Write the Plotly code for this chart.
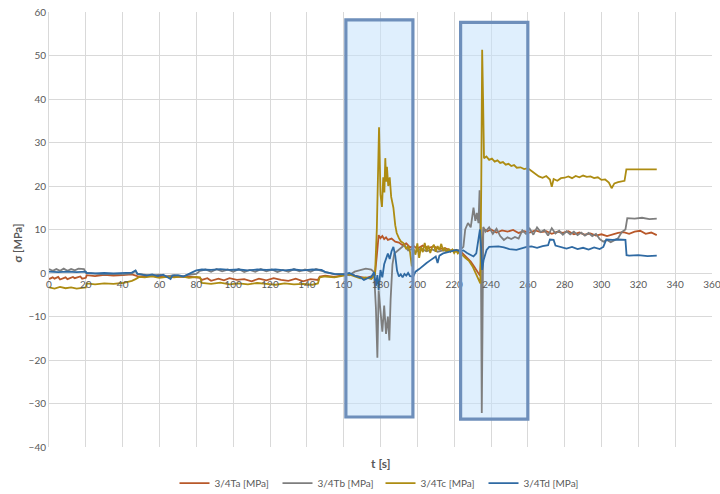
import plotly.graph_objects as go

# --- measured stresses, 3/4T gauges -------------------------------------
t_a = [0, 2, 3, 5, 6, 9, 10, 13, 14, 17, 18, 20, 20.5, 25, 30, 35, 40, 45, 48, 50,
       55, 60, 65, 70, 75, 80, 82, 83, 86, 88, 92, 95, 98, 102, 106, 110, 114, 118,
       122, 126, 130, 134, 138, 142, 146, 147, 150, 155, 160, 163, 166, 169, 172,
       175, 177, 178, 179, 180, 181, 182, 183, 184, 186, 188, 190, 192, 194, 196,
       198, 200, 203, 206, 209, 212, 215, 218, 221, 223, 225, 227, 229, 231, 233,
       234, 235, 236, 238, 240, 243, 246, 249, 252, 255, 258, 261, 264, 267, 270,
       273, 276, 279, 282, 285, 288, 291, 294, 297, 300, 303, 306, 309, 312, 315,
       318, 321, 324, 327, 330]
s_a = [-1.4, -1.0, -1.3, -0.9, -1.5, -1.0, -1.4, -0.9, -1.2, -0.8, -1.3, -1.1, -0.5,
       -0.7, -0.4, -0.6, -0.5, -0.3, -0.7, -0.8, -0.6, -0.9, -0.7, -0.9, -0.8, -1.0,
       -1.1, -1.6, -1.2, -1.8, -1.3, -1.7, -1.2, -1.6, -1.4, -1.9, -1.3, -1.7, -1.2,
       -1.6, -1.8, -1.3, -1.9, -1.4, -1.6, -0.8, -0.6, -0.9, -0.4, -0.2, -0.6, -0.9,
       -1.2, -0.8, -0.3, 4.0, 8.7, 8.0, 8.5, 7.8, 8.2, 7.6, 7.9, 7.2, 7.0, 6.4, 6.8,
       5.9, 6.2, 5.6, 6.3, 5.8, 6.1, 5.5, 5.7, 5.2, 5.0, 5.2, 4.4, 3.6, 2.6, 1.4, 0.2,
       -0.6, 5.0, 10.2, 9.6, 10.0, 9.3, 9.8, 9.5, 9.9, 9.2, 9.6, 9.3, 9.8, 9.4, 9.6,
       9.0, 9.5, 9.2, 9.6, 8.9, 9.3, 8.8, 9.1, 8.6, 8.9, 8.5, 8.9, 9.2, 9.4, 9.0, 9.5,
       9.7, 9.0, 9.3, 8.7]

t_b = [0, 2, 4, 6, 8, 10, 12, 14, 16, 19, 20, 25, 30, 35, 40, 45, 47, 48, 52, 56,
       60, 64, 68, 72, 76, 80, 82, 85, 88, 91, 94, 97, 100, 103, 106, 109, 112, 115,
       118, 121, 124, 127, 130, 133, 136, 139, 142, 145, 148, 151, 155, 160, 163,
       166, 169, 172, 175, 176.5, 177.5, 178.3, 179, 180, 181, 182, 183, 184, 184.8,
       185.5, 186.5, 187.5, 189, 191, 193, 195, 197, 199, 202, 205, 208, 211, 214,
       217, 220, 223, 225, 226, 227.5, 229, 230.5, 231.5, 232.3, 233.2, 233.8, 234.5,
       235, 235.4, 235.8, 237, 239, 241, 243, 245, 247, 249, 251, 253, 255, 257, 259,
       261, 263, 265, 267, 269, 271, 273, 275, 277, 279, 281, 283, 285, 287, 289,
       291, 293, 295, 297, 299, 301, 303, 305, 307, 309, 311, 313, 314, 318, 322,
       326, 330]
s_b = [0.9, 0.5, 0.9, 0.5, 1.0, 0.5, 0.9, 0.6, 1.0, 0.9, 0.0, -0.2, -0.3, -0.2, -0.3,
       -0.1, 0.5, -0.2, -0.4, -0.6, -0.4, -0.8, -0.5, -0.9, -0.4, -0.2, 0.5, 0.8, 0.3,
       0.9, 0.4, 0.8, 0.3, 0.9, 0.2, 0.7, 0.3, 0.9, 0.4, 0.8, 0.2, 0.7, 0.3, 0.9, 0.4,
       0.8, 0.3, 0.9, 0.5, 0.1, -0.3, -0.2, -0.5, 0.3, 0.6, 1.0, 0.8, 0.2, -8.0, -19.5,
       -4.0, -9.0, -13.5, -7.5, -14.0, -10.0, -15.5, -6.0, 2.0, 4.5, 5.0, 5.8, 6.4,
       5.2, 5.5, 4.8, 5.6, 5.0, 5.4, 4.9, 5.2, 5.0, 5.3, 5.2, 6.0, 10.0, 11.5, 10.5,
       15.0, 12.0, 13.8, 11.5, 19.0, 5.0, -32.2, -12.0, 10.6, 9.5, 10.5, 9.0, 10.2,
       8.5, 7.6, 8.2, 7.8, 8.3, 7.9, 9.8, 9.0, 10.2, 8.8, 10.5, 9.4, 9.9, 8.6, 10.3,
       9.1, 9.7, 8.8, 9.6, 8.9, 9.5, 8.7, 9.3, 8.6, 9.2, 8.5, 9.0, 7.8, 7.2, 7.6, 7.1,
       7.5, 8.0, 9.4, 10.0, 12.6, 12.5, 12.7, 12.4, 12.5]

t_c = [0, 3, 6, 9, 12, 15, 18, 20, 20.5, 25, 30, 35, 40, 43, 45, 47, 49, 52, 56, 60,
       64, 68, 72, 76, 80, 82, 83, 88, 93, 98, 103, 108, 113, 118, 123, 128, 133,
       138, 143, 146, 147, 150, 155, 160, 163, 166, 169, 172, 175, 177, 178, 179.2,
       180, 180.8, 181.5, 182.1, 182.6, 183.1, 183.5, 184.2, 185, 185.8, 187, 188,
       188.8, 190, 191, 192.4, 194, 195, 196, 197, 198, 199, 200, 201, 202, 203, 204,
       205, 206, 207, 208, 209, 210, 211, 212, 213, 214, 215, 216, 217, 218, 219,
       220, 221, 222, 223, 224, 226, 228, 230, 231.5, 232.5, 233.5, 234.2, 234.7,
       235.2, 235.7, 236.2, 237.5, 239, 240.5, 242, 243.5, 245, 246.5, 248, 249.5,
       251, 252.5, 254, 256, 258, 260, 262, 264, 266, 268, 270, 272, 273, 274, 276,
       278, 280, 282, 284, 286, 288, 290, 292, 294, 296, 298, 300, 302, 304, 305.5,
       307, 309, 311, 312.5, 313.5, 318, 322, 326, 330]
s_c = [-3.3, -3.6, -3.2, -3.5, -3.3, -3.6, -3.4, -3.3, -2.4, -2.6, -2.4, -2.5, -2.3,
       -2.0, -1.8, -1.4, -0.9, -1.0, -0.8, -1.1, -0.9, -1.0, -0.8, -1.1, -0.9, -1.0,
       -2.3, -2.5, -2.2, -2.6, -2.4, -2.6, -2.3, -2.5, -2.7, -2.4, -2.6, -2.5, -2.7,
       -2.4, -1.0, -0.8, -1.0, -0.6, -0.3, -0.8, -1.2, -1.0, -1.4, -0.5, 10.0, 33.5,
       18.0, 15.2, 22.0, 18.5, 26.4, 21.0, 24.4, 20.0, 22.0, 17.5, 15.0, 11.0, 9.2,
       8.0, 7.3, 6.9, 5.5, 6.2, 4.9, 1.5, 5.6, 4.2, 6.8, 3.5, 6.0, 4.8, 6.9, 5.0, 6.3,
       4.6, 5.9, 6.5, 4.9, 6.2, 5.3, 6.7, 5.1, 5.8, 4.7, 5.6, 4.9, 5.4, 4.6, 5.2, 4.5,
       5.0, 4.3, 3.5, 2.8, 1.5, 0.0, -0.8, -1.6, -2.4, 20.0, 51.3, 40.0, 26.4, 26.8,
       26.0, 26.3, 25.6, 25.9, 25.3, 25.5, 24.9, 25.1, 24.6, 24.8, 24.2, 24.3, 23.9,
       24.1, 23.5, 22.8, 22.2, 21.9, 22.3, 21.5, 19.8, 21.6, 21.2, 21.8, 21.9, 22.2,
       21.8, 22.3, 22.0, 22.4, 22.1, 22.2, 21.8, 22.0, 21.4, 21.5, 20.8, 19.5, 20.6,
       20.9, 21.0, 21.2, 23.8, 23.8, 23.8, 23.8, 23.8]

t_d = [0, 5, 10, 15, 20, 20.5, 25, 30, 35, 40, 45, 47, 48, 50, 53, 56, 59, 62, 64,
       66, 67, 70, 73, 76, 78, 80, 83, 88, 93, 98, 103, 108, 113, 118, 123, 128,
       133, 138, 143, 148, 150, 155, 160, 163, 166, 169, 171, 173, 175, 176.5,
       177.5, 178.3, 179, 180, 181, 182, 183, 184, 185, 186, 187, 188, 189, 190,
       191, 192, 193, 194, 195, 196, 197.8, 199, 201, 203.2, 205, 207, 208.6, 210,
       211, 212, 214, 216, 218, 221.3, 223, 225, 227, 229, 230.5, 232, 233.2, 234,
       234.6, 235.2, 236, 237.6, 239, 241.2, 244, 247, 250, 253.8, 256, 259.4, 262,
       265, 268, 271, 272, 274, 275, 278, 281, 284, 287, 290, 293, 296, 299, 301,
       302.6, 306, 309, 313, 313.6, 315, 320, 325, 330]
s_d = [0.3, 0.2, 0.3, 0.2, 0.3, 0.0, -0.1, 0.0, -0.1, 0.0, 0.1, 0.6, -0.2, -0.3,
       -0.6, -0.3, -0.7, -0.4, -0.9, -1.4, -0.6, -0.5, -0.8, -0.3, 0.2, 0.6, 0.8, 0.7,
       0.9, 0.7, 0.8, 0.6, 0.8, 0.7, 0.8, 0.6, 0.8, 0.6, 0.8, 0.7, 0.2, -0.2, -0.3,
       0.0, -0.6, -1.0, -1.6, -1.2, -0.9, 0.2, -3.0, -0.5, -3.9, 0.7, -1.0, 2.0, 3.5,
       4.5, 3.2, 5.0, 6.0, 4.0, 0.5, -0.8, -0.3, -1.0, -0.2, -0.6, 0.0, -0.7, -0.8,
       0.3, 0.9, 1.8, 2.3, 2.9, 3.4, 3.8, 2.3, 4.0, 4.5, 4.7, 5.0, 5.3, 5.0, 5.2, 4.6,
       4.2, 3.8, 4.5, 8.3, 10.0, 6.0, 0.7, 3.0, 5.3, 6.0, 6.0, 6.1, 5.9, 5.5, 5.3,
       5.6, 6.0, 6.1, 5.8, 6.2, 6.4, 7.7, 7.6, 6.3, 6.0, 5.6, 6.0, 5.5, 5.8, 5.4, 5.9,
       5.5, 6.0, 7.7, 7.6, 7.7, 7.6, 4.1, 4.0, 4.1, 3.9, 4.0]

series_names = ["3/4Ta [MPa]", "3/4Tb [MPa]", "3/4Tc [MPa]", "3/4Td [MPa]"]
series_colors = ["#B8582A", "#7E7E7E", "#AD8C12", "#2F6AA3"]

# highlighted time windows (start, end) in s and their stress extent in MPa
window_t = [(161.2, 197.6), (223.5, 260.0)]
window_s = [(-33.1, 58.2), (-33.6, 57.6)]

x_ticks = list(range(0, 361, 20))
y_ticks = list(range(-40, 61, 10))

GRID = "#D9D9D9"
TXT = "#595959"
FONT = "Lato, 'Open Sans', sans-serif"

fig = go.Figure()
for t, s, name, col in zip([t_a, t_b, t_c, t_d], [s_a, s_b, s_c, s_d],
                           series_names, series_colors):
    fig.add_trace(go.Scatter(x=t, y=s, mode="lines", name=name,
                             line=dict(color=col, width=1.8)))

for (x0, x1), (y0, y1) in zip(window_t, window_s):
    # tinted band under the curves, frame drawn on top
    fig.add_shape(type="rect", xref="x", yref="y", x0=x0, x1=x1, y0=y0, y1=y1,
                  line=dict(width=0), fillcolor="rgba(196,225,251,0.55)",
                  layer="between")
    fig.add_shape(type="rect", xref="x", yref="y", x0=x0, x1=x1, y0=y0, y1=y1,
                  line=dict(color="#6E8FBB", width=3.2),
                  fillcolor="rgba(0,0,0,0)", layer="above")

y_min, y_max = y_ticks[0], y_ticks[-1]
fig.update_layout(
    width=720, height=494,
    margin=dict(l=49, r=8, t=12, b=47, autoexpand=False),
    paper_bgcolor="white", plot_bgcolor="white",
    font=dict(family=FONT, size=10, color=TXT),
    showlegend=True,
    legend=dict(orientation="h", x=0.5, xanchor="center", y=-0.083,
                yanchor="middle", font=dict(size=10, color=TXT),
                itemwidth=30, entrywidth=58, tracegroupgap=0),
    xaxis=dict(range=[x_ticks[0], x_ticks[-1]], tickvals=x_ticks,
               showgrid=True, gridcolor=GRID, gridwidth=1,
               showline=False, zeroline=False, ticks="",
               anchor="free", position=(0 - y_min) / (y_max - y_min),
               ticklabeloverflow="allow", ticklabelstandoff=4,
               tickfont=dict(size=10, color=TXT)),
    yaxis=dict(range=[y_min, y_max], tickvals=y_ticks,
               showgrid=True, gridcolor=GRID, gridwidth=1,
               zeroline=True, zerolinecolor=GRID, zerolinewidth=1,
               showline=True, linecolor=GRID, ticks="",
               tickfont=dict(size=10, color=TXT)),
    annotations=[
        dict(text="<b>t [s]</b>", xref="paper", yref="paper", x=0.5, y=-0.037,
             xanchor="center", yanchor="middle", showarrow=False,
             font=dict(size=12, color=TXT)),
        dict(text="<b>σ [MPa]</b>", xref="paper", yref="paper", x=-0.047, y=0.47,
             xanchor="center", yanchor="middle", textangle=-90, showarrow=False,
             font=dict(size=11, color=TXT)),
    ],
)

fig.write_html("out.html")
